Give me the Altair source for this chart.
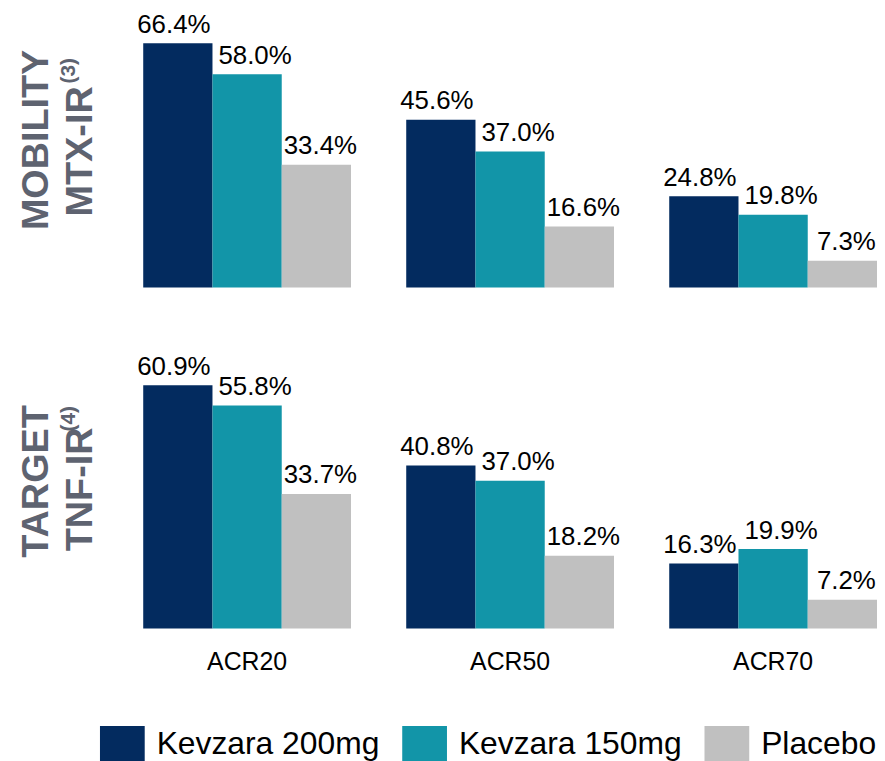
import altair as alt
import pandas as pd

categories = ["ACR20", "ACR50", "ACR70"]
series = ["Kevzara 200mg", "Kevzara 150mg", "Placebo"]
mobility_200 = [66.4, 45.6, 24.8]
mobility_150 = [58.0, 37.0, 19.8]
mobility_placebo = [33.4, 16.6, 7.3]
target_200 = [60.9, 40.8, 16.3]
target_150 = [55.8, 37.0, 19.9]
target_placebo = [33.7, 18.2, 7.2]
top_title = ["MOBILITY", "MTX-IR", "(3)"]
bottom_title = ["TARGET", "TNF-IR", "(4)"]
colors = ["#032b5f", "#1295a8", "#c0c0c0"]

FONT = "Liberation Sans"
TITLE_COLOR = "#5e6370"
label_dx = {"Kevzara 200mg": -4, "Kevzara 150mg": 8, "Placebo": 4}


def make_df(vals_list):
    rows = []
    for s, vals in zip(series, vals_list):
        for c, v in zip(categories, vals):
            rows.append({"category": c, "series": s, "value": v})
    return pd.DataFrame(rows)


legend = alt.Legend(
    title=None,
    orient="none",
    legendX=-39,
    legendY=720,
    direction="horizontal",
    symbolType="M-1.25,-1H1.25V1H-1.25Z",
    symbolSize=1296,
    symbolStrokeWidth=0,
    labelFont=FONT,
    labelFontSize=32,
    labelColor="black",
    labelOffset=16.5,
    labelLimit=400,
    columnPadding=22,
)


def title_text(text, x, y, size):
    return alt.Chart(pd.DataFrame({"t": [text]})).mark_text(
        angle=270, align="center", baseline="alphabetic", font=FONT,
        fontSize=size, fontWeight="bold", color=TITLE_COLOR,
    ).encode(x=alt.value(x), y=alt.value(y), text="t:N")


def panel(df, titles, title_ys, ymax, height, show_x):
    if show_x:
        xaxis = alt.Axis(
            title=None, labelFont=FONT, labelFontSize=25, labelColor="black",
            labelPadding=21, ticks=False, tickSize=0, domain=False, labelAngle=0,
        )
    else:
        xaxis = None
    base = alt.Chart(df).encode(
        x=alt.X("category:N", sort=categories,
                scale=alt.Scale(paddingInner=0.21, paddingOuter=0), axis=xaxis),
        xOffset=alt.XOffset("series:N", sort=series,
                            scale=alt.Scale(paddingInner=0, paddingOuter=0)),
        y=alt.Y("value:Q", scale=alt.Scale(domain=[0, ymax], nice=False), axis=None),
    )
    bars = base.mark_bar().encode(
        color=alt.Color("series:N", sort=series,
                        scale=alt.Scale(domain=series, range=colors), legend=legend)
    )
    texts = [
        base.transform_filter(alt.datum.series == s)
        .transform_calculate(label="format(datum.value, '.1f') + '%'")
        .mark_text(dx=label_dx[s], dy=-10.5, baseline="alphabetic", align="center",
                   fontSize=26, font=FONT, color="black")
        .encode(text="label:N")
        for s in series
    ]
    heads = [
        title_text(titles[0], -96, title_ys[0], 38),
        title_text(titles[1], -52, title_ys[1], 38),
        title_text(titles[2], -69, title_ys[2], 21),
    ]
    return alt.layer(bars, *texts, *heads).properties(width=738, height=height)


top = panel(make_df([mobility_200, mobility_150, mobility_placebo]),
            top_title, [130.5, 142, 61], 75.4, 279, False)
bottom = panel(make_df([target_200, target_150, target_placebo]),
               bottom_title, [137, 145, 74], 70.9, 285, True)

chart = (
    alt.vconcat(top, bottom, spacing=58)
    .resolve_scale(y="independent")
    .properties(padding={"left": 10, "top": 0, "right": 0, "bottom": 0})
    .configure_view(strokeWidth=0)
)

chart.save("out.html", embed_options={"renderer": "svg", "actions": False})
